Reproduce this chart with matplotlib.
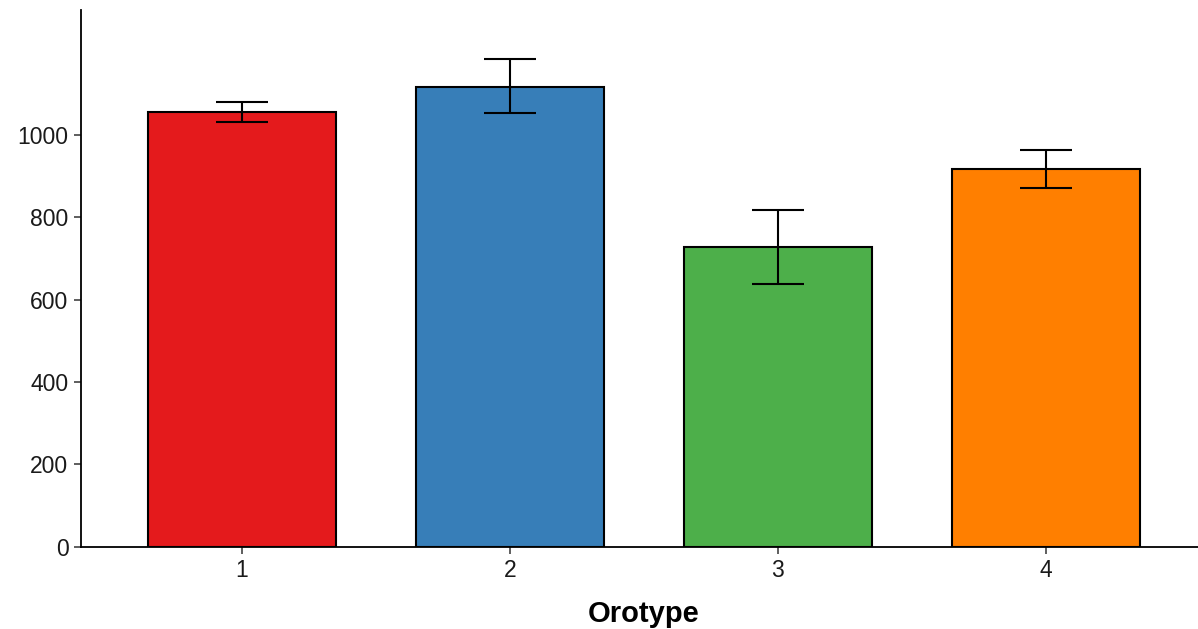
"""
Bar chart of mean value per orotype with error bars
"""
import matplotlib
matplotlib.use("Agg")
import matplotlib.pyplot as plt

# data
orotypes = [1, 2, 3, 4]
means = [1055, 1117, 727, 917]
err_low = [1031, 1053, 638, 871]
err_high = [1081, 1185, 819, 963]
colours = ["#E41A1C", "#377EB8", "#4DAF4A", "#FF7F00"]
y_ticks = [0, 200, 400, 600, 800, 1000]

plt.rcParams["font.family"] = ["Liberation Sans", "DejaVu Sans"]

fig = plt.figure(figsize=(11.98, 6.29), dpi=100)
ax = fig.add_axes([81 / 1198, (629 - 546.7) / 629, 1125.6 / 1198, (546.7 - 10) / 629])

yerr = [[m - lo for m, lo in zip(means, err_low)],
        [hi - m for m, hi in zip(means, err_high)]]

ax.bar(orotypes, means, width=0.7, color=colours, edgecolor="black", linewidth=1.5, zorder=2)
ax.errorbar(orotypes, means, yerr=yerr, fmt="none", ecolor="black", elinewidth=1.5,
            capsize=26.5 * 72 / 100, capthick=1.5, zorder=3)

ax.set_xlim(0.4, 4.6)
ax.set_ylim(0, 1304)
ax.set_xticks(orotypes)
ax.set_yticks(y_ticks)

for side in ["top", "right"]:
    ax.spines[side].set_visible(False)
for side in ["left", "bottom"]:
    ax.spines[side].set_linewidth(1.3)
    ax.spines[side].set_color("black")

ax.tick_params(axis="both", length=5, width=1.1, color="#333333", labelsize=16.5,
               labelcolor="#1a1a1a", pad=4)
ax.set_xlabel("Orotype", fontsize=21, fontweight="bold", labelpad=13)

fig.savefig("out.png", dpi=100)
